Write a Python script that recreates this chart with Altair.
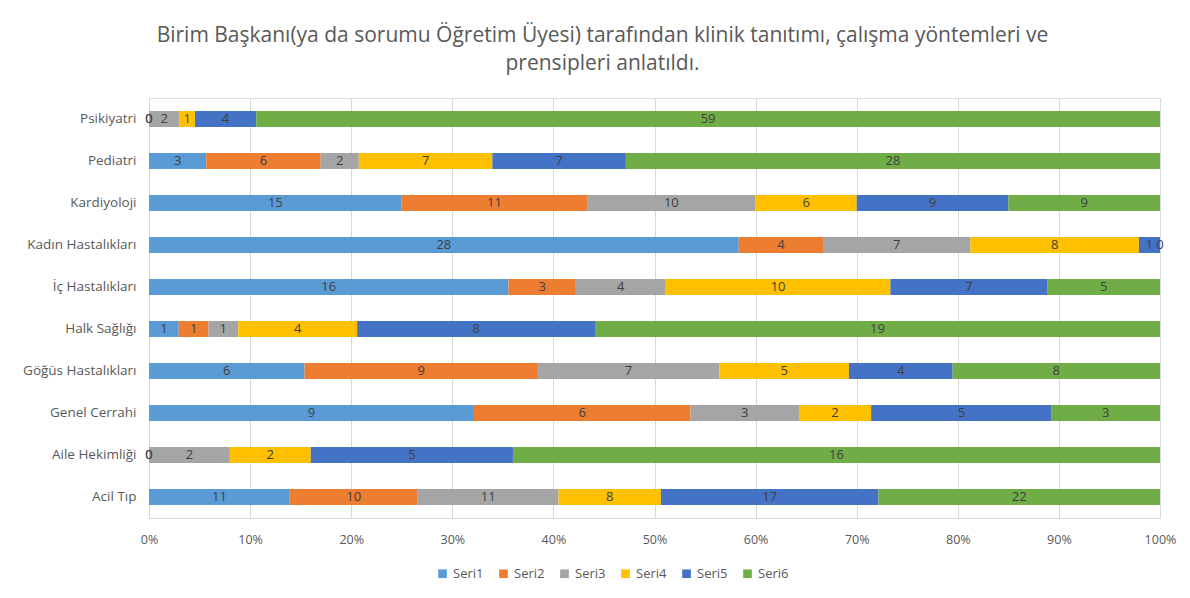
import altair as alt
import pandas as pd

categories = ["Psikiyatri", "Pediatri", "Kardiyoloji", "Kadın Hastalıkları", "İç Hastalıkları",
              "Halk Sağlığı", "Göğüs Hastalıkları", "Genel Cerrahi", "Aile Hekimliği", "Acil Tıp"]
series_names = ["Seri1", "Seri2", "Seri3", "Seri4", "Seri5", "Seri6"]
seri1 = [0, 3, 15, 28, 16, 1, 6, 9, 0, 11]
seri2 = [0, 6, 11, 4, 3, 1, 9, 6, 0, 10]
seri3 = [2, 2, 10, 7, 4, 1, 7, 3, 2, 11]
seri4 = [1, 7, 6, 8, 10, 4, 5, 2, 2, 8]
seri5 = [4, 7, 9, 1, 7, 8, 4, 5, 5, 17]
seri6 = [59, 28, 9, 0, 5, 19, 8, 3, 16, 22]
colors = ["#5B9BD5", "#ED7D31", "#A5A5A5", "#FFC000", "#4472C4", "#70AD47"]
title_lines = ["Birim Başkanı(ya da sorumu Öğretim Üyesi) tarafından klinik tanıtımı, çalışma yöntemleri ve",
               "prensipleri anlatıldı."]

all_series = [seri1, seri2, seri3, seri4, seri5, seri6]
rows = []
for si, (name, vals) in enumerate(zip(series_names, all_series)):
    for cat, v in zip(categories, vals):
        rows.append({"category": cat, "series": name, "order": si, "value": v})
df = pd.DataFrame(rows)

FONT = "Open Sans"

base = alt.Chart(df).transform_joinaggregate(
    total="sum(value)", groupby=["category"]
).transform_window(
    cum="sum(value)", groupby=["category"], sort=[alt.SortField("order")], frame=[None, 0]
).transform_calculate(
    start="(datum.cum - datum.value) / datum.total",
    end="datum.cum / datum.total",
    mid="(datum.cum - datum.value / 2) / datum.total",
)

yenc = alt.Y("category:N", sort=categories, title=None,
             scale=alt.Scale(paddingInner=0.62, paddingOuter=0.31),
             axis=alt.Axis(domain=False, ticks=False, labelFontSize=13.5, labelColor="#595959",
                           labelFont=FONT, labelPadding=13, grid=False))
xscale = alt.Scale(domain=[0, 1], nice=False)

bars = base.mark_bar().encode(
    x=alt.X("start:Q", scale=xscale, title=None,
            axis=alt.Axis(format="%", values=[i / 10 for i in range(11)], domain=False, ticks=False,
                          labelFontSize=12.5, labelColor="#595959", labelFont=FONT, labelPadding=15,
                          labelFlush=False, labelOverlap=False,
                          grid=True, gridColor="#D9D9D9", gridWidth=1)),
    x2="end:Q",
    y=yenc,
    color=alt.Color("series:N", scale=alt.Scale(domain=series_names, range=colors), title=None,
                    legend=alt.Legend(orient="none", direction="horizontal", legendX=287, legendY=469,
                                      symbolType="square", symbolSize=75, labelFontSize=13,
                                      labelColor="#595959", labelFont=FONT, columnPadding=13,
                                      symbolStrokeWidth=0)),
)

labels = base.mark_text(fontSize=13, color="#404040", font=FONT).encode(
    x=alt.X("mid:Q", scale=xscale),
    y=alt.Y("category:N", sort=categories),
    text=alt.Text("value:Q"),
)

chart = alt.layer(bars, labels).properties(
    width=1011, height=420,
    autosize=alt.AutoSizeParams(type="none"),
    padding={"left": 141, "top": 90, "right": 22, "bottom": 72},
    title=alt.TitleParams(text=title_lines, anchor="middle", dx=-52, offset=24, fontSize=21,
                          font=FONT, fontWeight="normal", color="#595959", lineHeight=28),
).configure_view(stroke=None).configure(background="white")

chart.save("out.html", embed_options={"renderer": "svg", "actions": False})
